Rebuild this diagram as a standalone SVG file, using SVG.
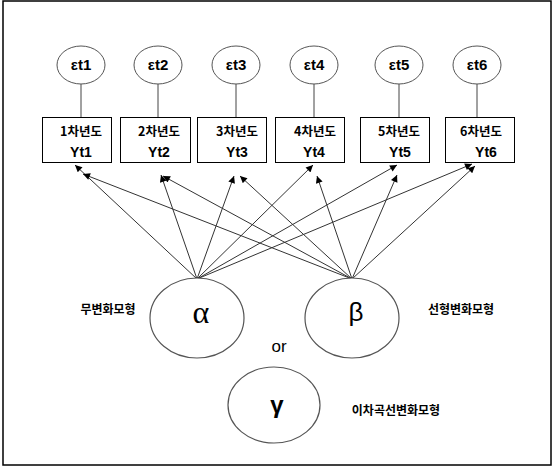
<svg xmlns="http://www.w3.org/2000/svg" width="554" height="468" viewBox="0 0 554 468">
<defs>
<marker id="ah" viewBox="0 0 10 10" refX="10" refY="5" markerWidth="9" markerHeight="7" markerUnits="userSpaceOnUse" orient="auto">
<path d="M0,0 L10,5 L0,10 z" fill="#000"/>
</marker>
<style>
.err{fill:#fff;stroke:#555;stroke-width:1}
.obs{fill:#fff;stroke:#000;stroke-width:1}
.lat{fill:#fff;stroke:#555;stroke-width:1.2}
.ln{stroke:#444;stroke-width:1;fill:none}
.ar{stroke:#333;stroke-width:1;fill:none;marker-end:url(#ah)}
.et{font-family:"Liberation Sans",Arial,sans-serif;font-weight:bold;font-size:15px;text-anchor:middle;fill:#000}
.kr{font-family:"Noto Sans CJK KR","Noto Sans",sans-serif;font-weight:bold;font-size:12.5px;text-anchor:middle;fill:#000}
.yt{font-family:"Liberation Sans",Arial,sans-serif;font-weight:bold;font-size:14px;text-anchor:middle;fill:#000}
.lab{font-family:"Noto Sans CJK KR","Noto Sans",sans-serif;font-weight:bold;font-size:12px;text-anchor:middle;fill:#000}
.gr{font-family:"Liberation Serif",serif;font-size:32px;text-anchor:middle;fill:#000}
</style>
</defs>
<rect x="3" y="1" width="548" height="464" fill="#fff" stroke="#000" stroke-width="1.5"/>

<g id="connectors">
<line class="ln" x1="81" y1="84" x2="81" y2="117"/>
<line class="ln" x1="158" y1="84" x2="158" y2="117"/>
<line class="ln" x1="236" y1="84" x2="236" y2="117"/>
<line class="ln" x1="314" y1="84" x2="314" y2="117"/>
<line class="ln" x1="399" y1="84" x2="399" y2="117"/>
<line class="ln" x1="477" y1="84" x2="477" y2="117"/>
<line class="ar" x1="197" y1="279" x2="75" y2="165"/>
<line class="ar" x1="197" y1="279" x2="161" y2="175"/>
<line class="ar" x1="197" y1="279" x2="234" y2="176"/>
<line class="ar" x1="197" y1="279" x2="313" y2="165"/>
<line class="ar" x1="197" y1="279" x2="397" y2="165"/>
<line class="ar" x1="197" y1="279" x2="472" y2="164"/>
<line class="ar" x1="352" y1="279" x2="83" y2="174"/>
<line class="ar" x1="352" y1="279" x2="163" y2="176"/>
<line class="ar" x1="352" y1="279" x2="240" y2="176"/>
<line class="ar" x1="352" y1="279" x2="317" y2="176"/>
<line class="ar" x1="352" y1="279" x2="397" y2="175"/>
<line class="ar" x1="352" y1="279" x2="475" y2="166"/>
</g>

<g id="e1"><ellipse class="err" cx="81" cy="65" rx="24" ry="19"/><text class="et" x="81" y="70">εt1</text></g>
<g id="e2"><ellipse class="err" cx="158" cy="65" rx="24" ry="19"/><text class="et" x="158" y="70">εt2</text></g>
<g id="e3"><ellipse class="err" cx="236" cy="65" rx="24" ry="19"/><text class="et" x="236" y="70">εt3</text></g>
<g id="e4"><ellipse class="err" cx="314" cy="65" rx="24" ry="19"/><text class="et" x="314" y="70">εt4</text></g>
<g id="e5"><ellipse class="err" cx="399" cy="65" rx="24" ry="19"/><text class="et" x="399" y="70">εt5</text></g>
<g id="e6"><ellipse class="err" cx="477" cy="65" rx="24" ry="19"/><text class="et" x="477" y="70">εt6</text></g>

<g id="y1"><rect class="obs" x="42.5" y="117.5" width="69" height="45"/><text class="kr" x="81" y="136">1차년도</text><text class="yt" x="81" y="157">Yt1</text></g>
<g id="y2"><rect class="obs" x="120.5" y="117.5" width="70" height="45"/><text class="kr" x="159" y="136">2차년도</text><text class="yt" x="159" y="157">Yt2</text></g>
<g id="y3"><rect class="obs" x="197.5" y="117.5" width="69" height="45"/><text class="kr" x="237" y="136">3차년도</text><text class="yt" x="237" y="157">Yt3</text></g>
<g id="y4"><rect class="obs" x="275.5" y="117.5" width="69" height="45"/><text class="kr" x="315" y="136">4차년도</text><text class="yt" x="314" y="157">Yt4</text></g>
<g id="y5"><rect class="obs" x="360.5" y="117.5" width="69" height="45"/><text class="kr" x="399" y="136">5차년도</text><text class="yt" x="400" y="157">Yt5</text></g>
<g id="y6"><rect class="obs" x="445.5" y="117.5" width="69" height="45"/><text class="kr" x="481" y="136">6차년도</text><text class="yt" x="486" y="157">Yt6</text></g>

<g id="alpha"><ellipse class="lat" cx="197" cy="318" rx="47" ry="40"/><text class="gr" x="201" y="323">α</text></g>
<g id="beta"><ellipse class="lat" cx="352" cy="318" rx="47" ry="40"/><text x="356" y="321" font-family="Liberation Sans,Arial,sans-serif" font-size="26" text-anchor="middle">β</text></g>
<g id="gamma"><ellipse class="lat" cx="274" cy="405" rx="46" ry="38"/><text x="277" y="413" font-family="Liberation Sans,Arial,sans-serif" font-weight="bold" font-size="24" text-anchor="middle">γ</text></g>

<text class="lab" x="108" y="314">무변화모형</text>
<text class="lab" x="461" y="314">선형변화모형</text>
<text class="lab" x="396" y="415">이차곡선변화모형</text>
<text x="279" y="352" font-family="Liberation Sans,Arial,sans-serif" font-size="17" text-anchor="middle">or</text>
</svg>
